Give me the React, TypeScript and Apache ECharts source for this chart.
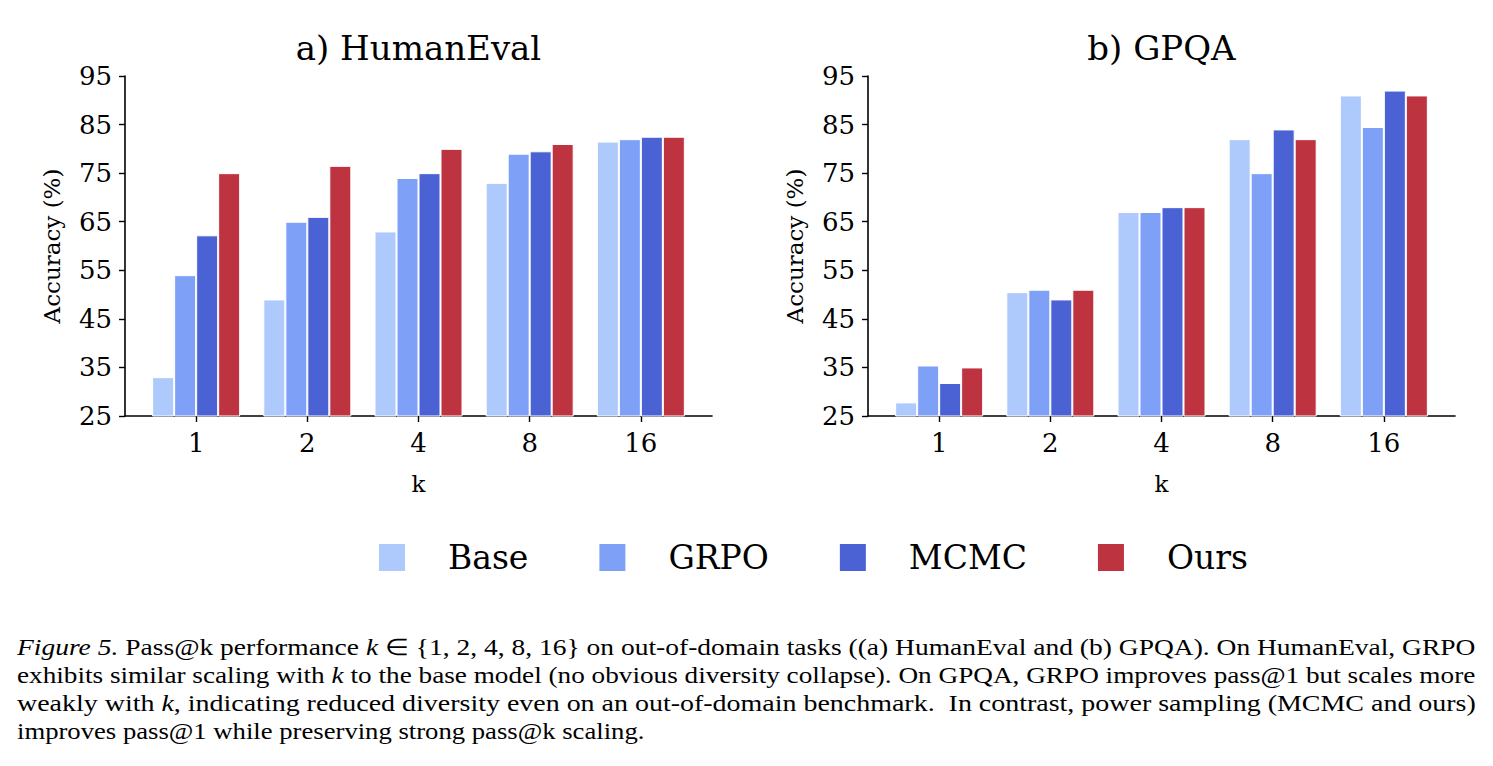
import React, { useEffect, useRef } from "react";
import * as echarts from "echarts";

const kLabels = ["1", "2", "4", "8", "16"];
const seriesNames = ["Base", "GRPO", "MCMC", "Ours"];
const seriesColors = ["#aecafc", "#7ea0f7", "#4a62d3", "#bd3340"];

const humanEvalBase = [33, 49, 63, 73, 81.5];
const humanEvalGRPO = [54, 65, 74, 79, 82];
const humanEvalMCMC = [62.2, 66, 75, 79.5, 82.5];
const humanEvalOurs = [75, 76.5, 80, 81, 82.5];

const gpqaBase = [27.8, 50.5, 67, 82, 91];
const gpqaGRPO = [35.4, 51, 67, 75, 84.5];
const gpqaMCMC = [31.8, 49, 68, 84, 92];
const gpqaOurs = [35, 51, 68, 82, 91];

const yTicksMin = 25;
const yTicksMax = 95;
const yTicksStep = 10;

const panelTitles = ["a) HumanEval", "b) GPQA"];
const yAxisTitle = "Accuracy (%)";
const xAxisTitle = "k";

const captionLines = [
  [
    { t: "Figure 5.", s: "it" },
    { t: " Pass@k performance ", s: "n" },
    { t: "k", s: "it" },
    { t: " ∈ {1, 2, 4, 8, 16} on out-of-domain tasks ((a) HumanEval and (b) GPQA). On HumanEval, GRPO", s: "n" },
  ],
  [
    { t: "exhibits similar scaling with ", s: "n" },
    { t: "k", s: "it" },
    { t: " to the base model (no obvious diversity collapse). On GPQA, GRPO improves pass@1 but scales more", s: "n" },
  ],
  [
    { t: "weakly with ", s: "n" },
    { t: "k", s: "it" },
    { t: ", indicating reduced diversity even on an out-of-domain benchmark.  In contrast, power sampling (MCMC and ours)", s: "n" },
  ],
  [{ t: "improves pass@1 while preserving strong pass@k scaling.", s: "n" }],
];

const PLOT_FONT = "DejaVu Serif";
const CAP_FONT = "Liberation Serif";
const CAP_SIZE = 23;

function toPairs(vals: number[]) {
  return vals.map((v, i) => [i, v]);
}

function segFont(s: string) {
  return `${s === "it" ? "italic " : ""}${CAP_SIZE}px "${CAP_FONT}"`;
}

function measureSegs(line: { t: string; s: string }[]) {
  const c = document.createElement("canvas");
  const ctx = c.getContext("2d");
  return line.map((p) => {
    if (!ctx) return p.t.length * CAP_SIZE * 0.45;
    ctx.font = segFont(p.s);
    return ctx.measureText(p.t).width;
  });
}

export default function App() {
  const ref = useRef<HTMLDivElement>(null);

  useEffect(() => {
    if (!ref.current) return;
    const chart = echarts.init(ref.current, null, { renderer: "svg" });

    const gridLefts = [125, 868];
    const gridWidth = 587;
    const gridTop = 76;
    const gridHeight = 340;

    const panels = [
      [humanEvalBase, humanEvalGRPO, humanEvalMCMC, humanEvalOurs],
      [gpqaBase, gpqaGRPO, gpqaMCMC, gpqaOurs],
    ];

    const xAxes = gridLefts.map((_, gi) => ({
      type: "value",
      gridIndex: gi,
      min: -0.64,
      max: 4.64,
      name: xAxisTitle,
      nameLocation: "middle",
      nameGap: 56,
      nameTextStyle: { fontFamily: PLOT_FONT, fontSize: 23, color: "#000" },
      splitLine: { show: false },
      axisLine: { show: true, onZero: false, lineStyle: { color: "#000", width: 1.6 } },
      axisTick: {
        show: true,
        inside: false,
        length: 6,
        customValues: [0, 1, 2, 3, 4],
        lineStyle: { color: "#000", width: 1.4 },
      },
      axisLabel: {
        show: true,
        customValues: [0, 1, 2, 3, 4],
        formatter: (v: number) => kLabels[Math.round(v)],
        fontFamily: PLOT_FONT,
        fontSize: 26,
        color: "#000",
        margin: 14,
      },
    }));

    const yAxes = gridLefts.map((_, gi) => ({
      type: "value",
      gridIndex: gi,
      min: yTicksMin,
      max: yTicksMax,
      interval: yTicksStep,
      name: yAxisTitle,
      nameLocation: "middle",
      nameGap: 62,
      nameTextStyle: { fontFamily: PLOT_FONT, fontSize: 23, color: "#000" },
      splitLine: { show: false },
      axisLine: { show: true, onZero: false, lineStyle: { color: "#000", width: 1.6 } },
      axisTick: { show: true, inside: false, length: 6, lineStyle: { color: "#000", width: 1.4 } },
      axisLabel: { fontFamily: PLOT_FONT, fontSize: 26, color: "#000", margin: 13 },
    }));

    const series: any[] = [];
    panels.forEach((panel, gi) => {
      panel.forEach((vals, si) => {
        series.push({
          type: "bar",
          name: seriesNames[si],
          xAxisIndex: gi,
          yAxisIndex: gi,
          data: toPairs(vals),
          barWidth: 22,
          barGap: "0%",
          itemStyle: { color: seriesColors[si], borderColor: "#fff", borderWidth: 1 },
        });
      });
    });

    const capLeft = 17;
    const capTargets = [1459, 1459, 1459, 628];
    const capYs = [647, 675, 703, 731];

    const graphics: any[] = [];
    panelTitles.forEach((t, i) => {
      graphics.push({
        type: "text",
        x: gridLefts[i] + gridWidth / 2,
        y: 48,
        style: {
          text: t,
          fontFamily: PLOT_FONT,
          fontSize: 34,
          fill: "#000",
          textAlign: "center",
          textVerticalAlign: "middle",
        },
      });
    });
    captionLines.forEach((line, li) => {
      const widths = measureSegs(line);
      const total = widths.reduce((a, b) => a + b, 0);
      const sx = total > 0 ? capTargets[li] / total : 1;
      let acc = 0;
      const children = line.map((p, pi) => {
        const el = {
          type: "text",
          x: acc,
          y: 0,
          style: {
            text: p.t,
            fontFamily: CAP_FONT,
            fontSize: CAP_SIZE,
            fontStyle: p.s === "it" ? "italic" : "normal",
            fill: "#000",
            textVerticalAlign: "middle",
          },
        };
        acc += widths[pi];
        return el;
      });
      graphics.push({
        type: "group",
        x: capLeft,
        y: capYs[li],
        scaleX: sx,
        children,
      });
    });

    chart.setOption({
      animation: false,
      backgroundColor: "#fff",
      grid: gridLefts.map((l) => ({ left: l, top: gridTop, width: gridWidth, height: gridHeight, containLabel: false })),
      xAxis: xAxes,
      yAxis: yAxes,
      legend: {
        data: seriesNames,
        left: 377,
        top: 541,
        padding: 0,
        icon: "rect",
        itemWidth: 28,
        itemHeight: 29,
        itemGap: 69,
        textStyle: { fontFamily: PLOT_FONT, fontSize: 33, color: "#000", padding: [0, 0, 0, 37] },
      },
      series,
      graphic: graphics,
    });

    return () => chart.dispose();
  }, []);

  return (
    <div
      ref={ref}
      style={{ position: "fixed", left: 0, top: 0, width: 1493, height: 766, background: "#fff" }}
    />
  );
}
